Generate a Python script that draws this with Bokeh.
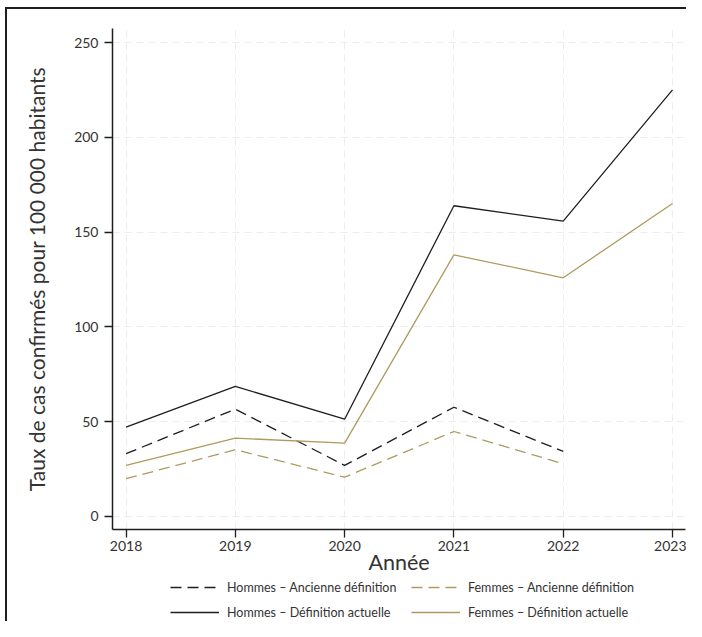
from bokeh.plotting import figure
from bokeh.layouts import column
from bokeh.models import Range1d, Legend, LegendItem, FixedTicker
from bokeh.embed import file_html
from bokeh.resources import INLINE

years = [2018, 2019, 2020, 2021, 2022, 2023]
years_old = [2018, 2019, 2020, 2021, 2022]
hommes_actuelle = [47.1, 68.6, 51.3, 163.9, 155.8, 225.0]
femmes_actuelle = [26.9, 41.3, 38.7, 138.0, 125.9, 165.1]
hommes_ancienne = [33.1, 56.6, 26.9, 57.6, 34.3]
femmes_ancienne = [19.9, 35.2, 20.7, 44.8, 27.8]
y_ticks = [0, 50, 100, 150, 200, 250]

labels = [
    "Hommes – Ancienne définition",
    "Femmes – Ancienne définition",
    "Hommes – Définition actuelle",
    "Femmes – Définition actuelle",
]

BLACK = "#1e1e1e"
GOLD = "#b09a60"
FONT = "Lato"
TXT = "#333333"
DASH = "11 6"
NAN = float("nan")

W = 679
p = figure(width=W, height=569, output_backend="svg", toolbar_location=None,
           x_range=Range1d(2017.876, 2023.119), y_range=Range1d(-6.9, 257.4),
           min_border_left=105, min_border_top=19, min_border_right=1, min_border_bottom=49)
p.outline_line_color = None
p.background_fill_color = "white"
p.border_fill_color = "white"

p.line(years_old, hommes_ancienne, line_color=BLACK, line_width=1.3, line_dash=DASH)
p.line(years_old, femmes_ancienne, line_color=GOLD, line_width=1.3, line_dash=DASH)
p.line(years, hommes_actuelle, line_color=BLACK, line_width=1.3)
p.line(years, femmes_actuelle, line_color=GOLD, line_width=1.3)

p.xaxis.ticker = FixedTicker(ticks=years)
p.yaxis.ticker = FixedTicker(ticks=y_ticks)
for ax in (p.xaxis[0], p.yaxis[0]):
    ax.axis_line_color = BLACK
    ax.axis_line_width = 1.5
    ax.major_tick_line_color = BLACK
    ax.major_tick_line_width = 1.3
    ax.major_tick_out = 8
    ax.major_tick_in = 0
    ax.minor_tick_line_color = None
    ax.major_label_text_font = FONT
    ax.major_label_text_font_size = "14px"
    ax.major_label_text_color = TXT
    ax.axis_label_text_font = FONT
    ax.axis_label_text_font_style = "normal"
    ax.axis_label_text_color = TXT

p.xaxis.major_label_standoff = 3
p.yaxis.major_label_standoff = 6
p.xaxis.axis_label = "Année"
p.xaxis.axis_label_text_font_size = "21.5px"
p.xaxis.axis_label_standoff = -5
p.yaxis.axis_label = "Taux de cas confirmés pour 100 000 habitants"
p.yaxis.axis_label_text_font_size = "21px"
p.yaxis.axis_label_standoff = 22
p.yaxis.major_label_orientation = "horizontal"

for g in (p.xgrid[0], p.ygrid[0]):
    g.grid_line_color = "#ececec"
    g.grid_line_dash = "7 5"
    g.grid_line_width = 1

# legend strip below the chart (frame aligned with the chart's frame)
q = figure(width=W, height=43, output_backend="svg", toolbar_location=None,
           x_range=Range1d(0, 1), y_range=Range1d(0, 1),
           x_axis_type=None, y_axis_type=None,
           min_border_left=105, min_border_right=1, min_border_top=0, min_border_bottom=0)
q.outline_line_color = None
q.xgrid.visible = False
q.ygrid.visible = False
l_ha = q.line([NAN], [NAN], line_color=BLACK, line_width=1.3, line_dash=DASH)
l_fa = q.line([NAN], [NAN], line_color=GOLD, line_width=1.3, line_dash=DASH)
l_hc = q.line([NAN], [NAN], line_color=BLACK, line_width=1.3)
l_fc = q.line([NAN], [NAN], line_color=GOLD, line_width=1.3)

legend = Legend(items=[
    LegendItem(label=labels[0], renderers=[l_ha]),
    LegendItem(label=labels[1], renderers=[l_fa]),
    LegendItem(label=labels[2], renderers=[l_hc]),
    LegendItem(label=labels[3], renderers=[l_fc]),
], orientation="horizontal", ncols=2, location=(58, 0))
legend.glyph_width = 49
legend.glyph_height = 18
legend.label_height = 18
legend.label_width = 177
legend.label_standoff = 8
legend.spacing = 7
legend.padding = 0
legend.margin = 0
legend.border_line_color = None
legend.background_fill_alpha = 0
legend.label_text_font = FONT
legend.label_text_font_size = "12.5px"
legend.label_text_color = TXT
q.add_layout(legend, "center")

layout = column(p, q, spacing=0)
layout.styles = {"margin-left": "5px", "margin-top": "7px",
                 "border-left": "2px solid #1e1e1e", "border-top": "2px solid #1e1e1e"}

open("out.html", "w").write(file_html(layout, INLINE))
